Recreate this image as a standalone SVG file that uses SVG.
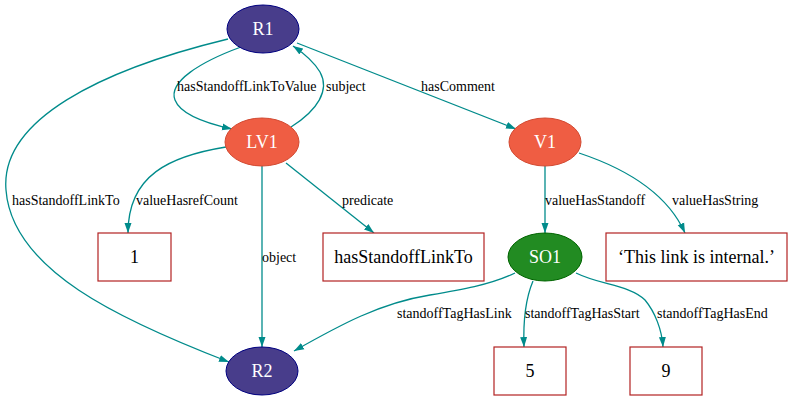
<svg xmlns="http://www.w3.org/2000/svg" width="791" height="401" viewBox="0 0 791 401">
<style>
.e{fill:none;stroke:#008b8b;stroke-width:1.3}
text{font-family:'Liberation Serif','Times New Roman','Nimbus Roman','Nimbus Roman No9 L',FreeSerif,'Noto Serif','DejaVu Serif',Georgia,serif}
.el{font-size:14px;fill:#000}
.res{fill:#483d8b;stroke:#000080;stroke-width:1}
.val{fill:#ef5d43;stroke:#d24a32;stroke-width:1}
.so{fill:#228b22;stroke:#006400;stroke-width:1}
.lit{fill:#fff;stroke:#b22222;stroke-width:1.2}
.nt{font-size:18px;fill:#fff;text-anchor:middle}
.lt{font-size:18px;fill:#000;text-anchor:middle}
</style>
<defs>
<marker id="ah" markerUnits="userSpaceOnUse" markerWidth="10" markerHeight="8" viewBox="0 0 10 7" refX="10" refY="3.5" orient="auto">
<path d="M0,0 L10,3.5 L0,7 z" fill="#008b8b"/>
</marker>
</defs>
<rect width="791" height="401" fill="#fff"/>
<g id="edges">
<path class="e" marker-end="url(#ah)" d="M241,47 C200,62 168,82 175,100 C180,113 200,122 232,129"/>
<text class="el" x="177" y="91">hasStandoffLinkToValue</text>
<path class="e" marker-end="url(#ah)" d="M291,127 C318,110 330,90 320,72 C314,62 305,54 293,46"/>
<text class="el" x="326" y="91">subject</text>
<path class="e" marker-end="url(#ah)" d="M297,43 L516,129"/>
<text class="el" x="421" y="91">hasComment</text>
<path class="e" marker-end="url(#ah)" d="M228,39 C100,70 0,120 6,190 C12,270 120,320 229,362"/>
<text class="el" x="12" y="205">hasStandoffLinkTo</text>
<path class="e" marker-end="url(#ah)" d="M226,147 C170,156 128,175 128,233"/>
<text class="el" x="136" y="205">valueHasrefCount</text>
<path class="e" marker-end="url(#ah)" d="M262,166 L262,347"/>
<text class="el" x="262" y="262">object</text>
<path class="e" marker-end="url(#ah)" d="M286,163 L374,233"/>
<text class="el" x="342" y="205">predicate</text>
<path class="e" marker-end="url(#ah)" d="M545,166 L545,233"/>
<text class="el" x="545" y="205">valueHasStandoff</text>
<path class="e" marker-end="url(#ah)" d="M579,153 C630,170 668,195 685,233"/>
<text class="el" x="672" y="205">valueHasString</text>
<path class="e" marker-end="url(#ah)" d="M515,273 C490,285 460,290 430,295 C380,303 340,325 294,351"/>
<text class="el" x="397" y="318">standoffTagHasLink</text>
<path class="e" marker-end="url(#ah)" d="M533,281 C525,300 523,320 524,347"/>
<text class="el" x="525" y="318">standoffTagHasStart</text>
<path class="e" marker-end="url(#ah)" d="M576,273 C600,285 630,285 645,300 C655,312 662,330 663,347"/>
<text class="el" x="657" y="318">standoffTagHasEnd</text>
</g>
<g id="R1"><ellipse class="res" cx="263" cy="29" rx="36" ry="24"/><text class="nt" x="263" y="35">R1</text></g>
<g id="LV1"><ellipse class="val" cx="262" cy="142" rx="37" ry="24"/><text class="nt" x="262" y="148">LV1</text></g>
<g id="V1"><ellipse class="val" cx="545" cy="142" rx="36" ry="24"/><text class="nt" x="545" y="148">V1</text></g>
<g id="SO1"><ellipse class="so" cx="545" cy="257" rx="37" ry="24"/><text class="nt" x="545" y="263">SO1</text></g>
<g id="R2"><ellipse class="res" cx="262" cy="371" rx="36" ry="24"/><text class="nt" x="262" y="377">R2</text></g>
<g id="L1"><rect class="lit" x="98" y="233" width="73" height="48"/><text class="lt" x="134.5" y="263">1</text></g>
<g id="Lpred"><rect class="lit" x="323" y="233" width="161" height="48"/><text class="lt" x="403.5" y="263">hasStandoffLinkTo</text></g>
<g id="Lstr"><rect class="lit" x="606" y="233" width="181" height="48"/><text class="lt" x="696.5" y="263">‘This link is internal.’</text></g>
<g id="L5"><rect class="lit" x="494" y="347" width="72" height="48"/><text class="lt" x="530" y="377">5</text></g>
<g id="L9"><rect class="lit" x="630" y="347" width="72" height="48"/><text class="lt" x="666" y="377">9</text></g>
</svg>
